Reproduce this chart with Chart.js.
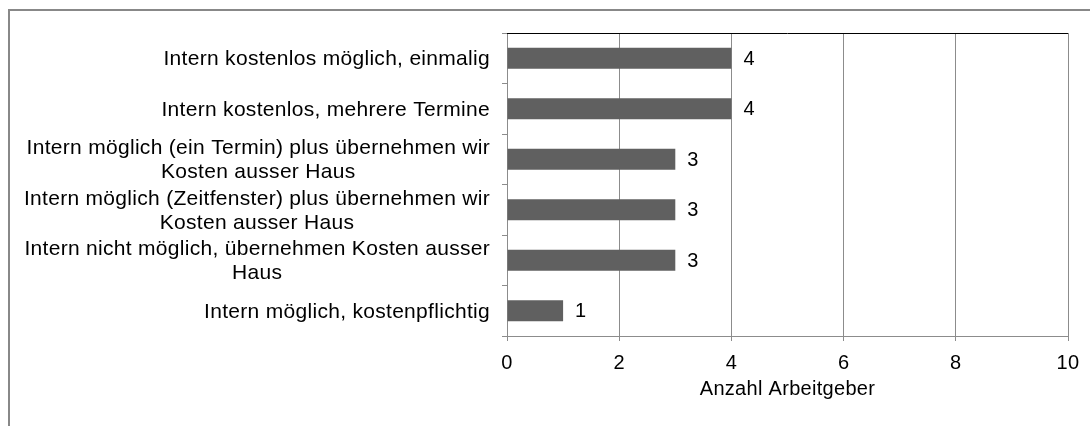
<!DOCTYPE html>
<html>
<head>
<meta charset="utf-8">
<script src="https://cdn.jsdelivr.net/npm/chart.js@4"></script>
<style>
  html, body { margin: 0; padding: 0; background: #ffffff; }
  #wrap { position: relative; width: 1090px; height: 426px; }
</style>
</head>
<body>
<div id="wrap"><canvas id="c" width="1090" height="426"></canvas></div>
<script>
const categories = [
  "Intern kostenlos möglich, einmalig",
  "Intern kostenlos, mehrere Termine",
  ["Intern möglich (ein Termin) plus übernehmen wir", "Kosten ausser Haus"],
  ["Intern möglich (Zeitfenster) plus übernehmen wir", "Kosten ausser Haus"],
  ["Intern nicht möglich, übernehmen Kosten ausser", "Haus"],
  "Intern möglich, kostenpflichtig"
];
const values = [4, 4, 3, 3, 3, 1];
const xTicks = [0, 2, 4, 6, 8, 10];
const xTitle = "Anzahl Arbeitgeber";

const FONT = "'Liberation Sans', Arial, sans-serif";
const LABEL_SIZE = 21;
const LINE_H = 24;
const SPACING = '0.3px';

const frame = {
  id: 'frame',
  beforeDraw(chart) {
    const ctx = chart.ctx;
    ctx.letterSpacing = SPACING;
    ctx.save();
    ctx.fillStyle = '#ffffff';
    ctx.fillRect(0, 0, chart.width, chart.height);
    ctx.strokeStyle = '#888888';
    ctx.lineWidth = 2;
    ctx.beginPath();
    ctx.moveTo(9, chart.height);
    ctx.lineTo(9, 10);
    ctx.lineTo(chart.width, 10);
    ctx.stroke();
    ctx.restore();
  },
  afterDraw(chart) {
    const ctx = chart.ctx;
    const a = chart.chartArea;
    ctx.save();
    ctx.strokeStyle = '#000000';
    ctx.lineWidth = 1;
    ctx.beginPath();
    ctx.moveTo(a.left, Math.round(a.top) + 0.5);
    ctx.lineTo(a.right, Math.round(a.top) + 0.5);
    ctx.stroke();
    ctx.restore();
  }
};

// Category labels: block right-aligned to the axis, lines centred within the block
const categoryLabels = {
  id: 'categoryLabels',
  afterDraw(chart) {
    const ctx = chart.ctx;
    const y = chart.scales.y;
    const rightEdge = y.right - 5 - 12;
    ctx.save();
    ctx.letterSpacing = SPACING;
    ctx.fillStyle = '#000000';
    ctx.font = LABEL_SIZE + 'px ' + FONT;
    ctx.textBaseline = 'middle';
    chart.data.labels.forEach((lab, i) => {
      const lines = Array.isArray(lab) ? lab : [lab];
      const cy = y.getPixelForValue(i);
      const widths = lines.map(l => ctx.measureText(l).width);
      const maxW = Math.max(...widths);
      const cx = rightEdge - maxW / 2;
      const y0 = cy - (lines.length - 1) * LINE_H / 2 + 1;
      ctx.textAlign = 'center';
      lines.forEach((l, k) => ctx.fillText(l, cx, y0 + k * LINE_H));
    });
    ctx.restore();
  }
};

const valueLabels = {
  id: 'valueLabels',
  afterDatasetsDraw(chart) {
    const ctx = chart.ctx;
    const meta = chart.getDatasetMeta(0);
    ctx.save();
    ctx.letterSpacing = SPACING;
    ctx.fillStyle = '#000000';
    ctx.font = '20px ' + FONT;
    ctx.textAlign = 'left';
    ctx.textBaseline = 'middle';
    meta.data.forEach((bar, i) => {
      ctx.fillText(String(chart.data.datasets[0].data[i]), bar.x + 12, bar.y + 1);
    });
    ctx.restore();
  }
};

new Chart(document.getElementById('c'), {
  type: 'bar',
  data: {
    labels: categories,
    datasets: [{
      data: values,
      backgroundColor: '#606060',
      borderWidth: 0,
      barPercentage: 0.42,
      categoryPercentage: 1.0
    }]
  },
  options: {
    indexAxis: 'y',
    responsive: false,
    animation: false,
    devicePixelRatio: 1,
    layout: { padding: { top: 33, right: 22, bottom: 0, left: 0 } },
    plugins: {
      legend: { display: false },
      tooltip: { enabled: false }
    },
    scales: {
      x: {
        min: 0, max: 10,
        afterBuildTicks(scale) { scale.ticks = xTicks.map(v => ({ value: v })); },
        grid: { color: '#8c8c8c', lineWidth: 1, tickLength: 5, drawTicks: true },
        border: { color: '#8c8c8c', width: 1 },
        ticks: { color: '#000000', font: { size: 20, family: FONT }, padding: 10, maxRotation: 0 },
        title: { display: true, text: xTitle, color: '#000000', font: { size: 20, family: FONT }, padding: { top: 4, bottom: 25 } },
        afterFit(scale) { scale.height = 90; }
      },
      y: {
        grid: { drawOnChartArea: false, color: '#8c8c8c', tickLength: 5, offset: true },
        border: { color: '#8c8c8c', width: 1 },
        ticks: { display: false },
        afterFit(scale) { scale.width = 507; }
      }
    }
  },
  plugins: [frame, categoryLabels, valueLabels]
});
</script>
</body>
</html>
